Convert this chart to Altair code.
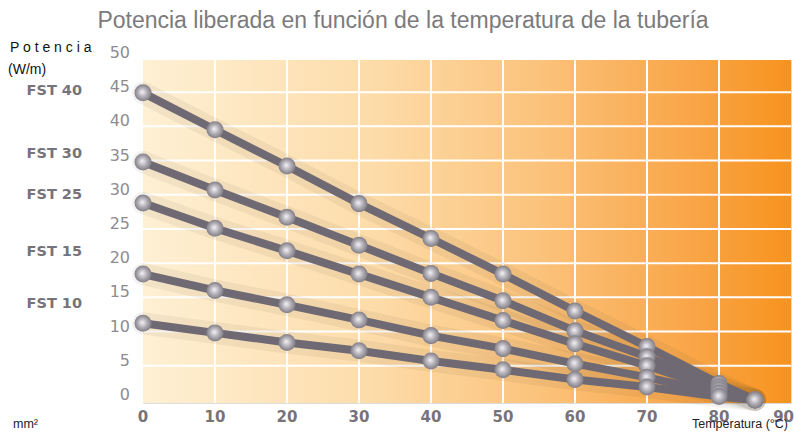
import altair as alt
import pandas as pd

# ---- data ----
temps = [0, 10, 20, 30, 40, 50, 60, 70, 80, 85]
series_names = ["FST 40", "FST 30", "FST 25", "FST 15", "FST 10"]
fst40 = [44.9, 39.5, 34.2, 28.7, 23.6, 18.4, 13.0, 7.8, 2.4, 0]
fst30 = [34.8, 30.7, 26.7, 22.6, 18.5, 14.5, 10.1, 6.3, 1.9, 0]
fst25 = [28.8, 25.1, 21.8, 18.4, 15.0, 11.6, 8.2, 5.0, 1.5, 0]
fst15 = [18.4, 16.0, 13.9, 11.7, 9.4, 7.5, 5.3, 3.3, 1.0, 0]
fst10 = [11.2, 9.8, 8.4, 7.2, 5.7, 4.4, 3.0, 1.9, 0.5, 0]
label_levels = [45.1, 36.0, 29.9, 21.6, 14.0]

x_ticks = [0, 10, 20, 30, 40, 50, 60, 70, 80, 90]
y_ticks = [0, 5, 10, 15, 20, 25, 30, 35, 40, 45, 50]
x_grid = [10, 20, 30, 40, 50, 60, 70, 80]
y_grid = [5, 10, 15, 20, 25, 30, 35, 40, 45]

title_text = "Potencia liberada en función de la temperatura de la tubería"

W, H = 648, 343

rows = []
for name, vals in zip(series_names, [fst40, fst30, fst25, fst15, fst10]):
    for t, v in zip(temps, vals):
        rows.append({"serie": name, "t": t, "p": v})
df = pd.DataFrame(rows)

xs = alt.Scale(domain=[0, 90], nice=False, zero=False)
ys = alt.Scale(domain=[-0.45, 49.7], nice=False, zero=False)

bg = alt.Chart(pd.DataFrame({"a": [0]})).mark_rect(
    color=alt.LinearGradient(
        gradient="linear",
        stops=[
            alt.GradientStop(color="#fef0d4", offset=0),
            alt.GradientStop(color="#fddcaa", offset=0.35),
            alt.GradientStop(color="#fbc47e", offset=0.6),
            alt.GradientStop(color="#f9a547", offset=0.85),
            alt.GradientStop(color="#f7931e", offset=1),
        ],
        x1=0, x2=1, y1=0, y2=0,
    )
).encode(x=alt.value(0), x2=alt.value(W), y=alt.value(0), y2=alt.value(H))

vgrid = alt.Chart(pd.DataFrame({"v": x_grid})).mark_rule(color="white", strokeWidth=2).encode(
    x=alt.X("v:Q", scale=xs, axis=None), y=alt.value(0), y2=alt.value(H)
)
hgrid = alt.Chart(pd.DataFrame({"v": y_grid})).mark_rule(color="white", strokeWidth=2).encode(
    y=alt.Y("v:Q", scale=ys, axis=None), x=alt.value(0), x2=alt.value(W)
)

base = alt.Chart(df)
shadow = base.mark_line(color="#5a4530", strokeWidth=22, opacity=0.07, strokeCap="round").encode(
    x=alt.X("t:Q", scale=xs, axis=None),
    y=alt.Y("p:Q", scale=ys, axis=None),
    detail="serie:N",
)
lines = base.mark_line(color="#6e6973", strokeWidth=8).encode(
    x=alt.X("t:Q", scale=xs, axis=None),
    y=alt.Y("p:Q", scale=ys, axis=None),
    detail="serie:N",
)
points = base.mark_point(
    filled=True, size=290, opacity=1, strokeWidth=0,
    fill=alt.RadialGradient(
        gradient="radial",
        stops=[
            alt.GradientStop(color="#f4f3f6", offset=0),
            alt.GradientStop(color="#b0adb4", offset=0.5),
            alt.GradientStop(color="#76727b", offset=1),
        ],
        x1=0.45, y1=0.45, r1=0, x2=0.5, y2=0.5, r2=0.55,
    ),
).encode(
    x=alt.X("t:Q", scale=xs, axis=None),
    y=alt.Y("p:Q", scale=ys, axis=None),
)

xlab_style = dict(baseline="middle", font="DejaVu Sans", fontWeight="bold",
                  fontSize=15, color="#77737a")
xlabels = alt.Chart(pd.DataFrame({"v": x_ticks[:-1]})).mark_text(
    align="center", **xlab_style
).encode(x=alt.X("v:Q", scale=xs, axis=None), y=alt.value(H + 14), text="v:Q")
xlabel_last = alt.Chart(pd.DataFrame({"v": x_ticks[-1:]})).mark_text(
    align="right", dx=3, **xlab_style
).encode(x=alt.X("v:Q", scale=xs, axis=None), y=alt.value(H + 14), text="v:Q")

ylabels = alt.Chart(pd.DataFrame({"v": y_ticks})).mark_text(
    align="right", baseline="middle", font="DejaVu Sans", fontSize=16, color="#8e8b92", dy=-5
).encode(y=alt.Y("v:Q", scale=ys, axis=None), x=alt.value(-13), text="v:Q")

slabels = alt.Chart(pd.DataFrame({"s": series_names, "v": label_levels})).mark_text(
    align="right", baseline="middle", font="DejaVu Sans", fontWeight="bold", fontSize=14.5, color="#77737a"
).encode(y=alt.Y("v:Q", scale=ys, axis=None), x=alt.value(-61), text="s:N")

def txt(s, x, y, **kw):
    return alt.Chart(pd.DataFrame({"s": [s]})).mark_text(**kw).encode(
        x=alt.value(x), y=alt.value(y), text="s:N"
    )

title = txt(title_text, 260, -32, align="center", baseline="alphabetic",
            font="Liberation Sans", fontSize=23, color="#7b7b7d")
pot = txt("P o t e n c i a", -133, -12, align="left", baseline="middle",
          font="Liberation Sans", fontSize=14, color="#111111")
wm = txt("(W/m)", -135, 10, align="left", baseline="middle",
         font="Liberation Sans", fontSize=14, color="#111111")
temp_t = txt("Temperatura (°C)", 645, H + 25, align="right", baseline="alphabetic",
             font="Liberation Sans", fontSize=12.5, color="#222222")
mm = txt("mm²", -105, H + 25, align="right", baseline="alphabetic",
         font="Liberation Sans", fontSize=12.5, color="#222222")

chart = alt.layer(
    bg, vgrid, hgrid, shadow, lines, points, xlabels, xlabel_last, ylabels, slabels,
    title, pot, wm, temp_t, mm
).properties(
    width=W, height=H,
    autosize=alt.AutoSizeParams(type="none"),
    padding={"left": 135, "top": 52, "right": 4, "bottom": 28},
).configure_view(stroke=None).configure(background="white")

chart.save("out.html", embed_options={"renderer": "svg", "actions": False})
